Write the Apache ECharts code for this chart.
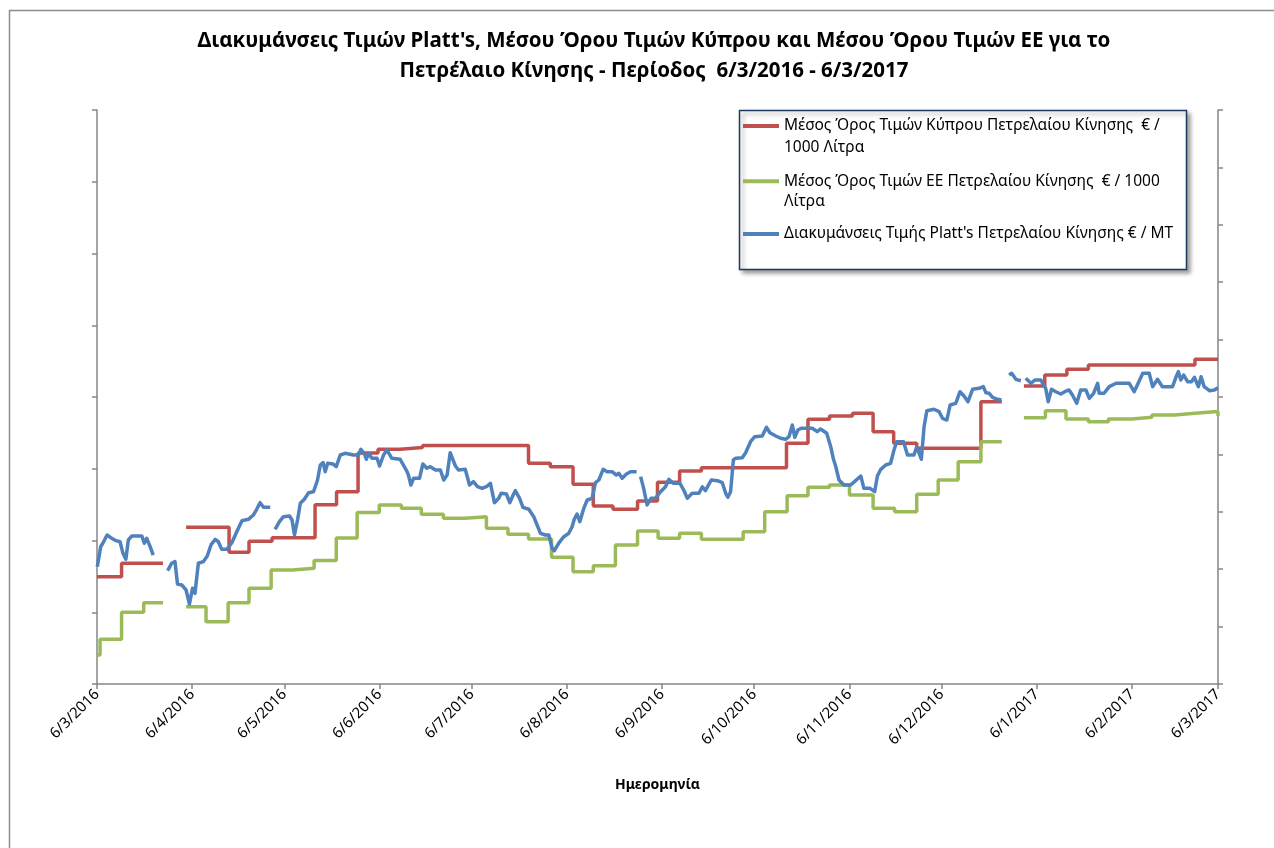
<!DOCTYPE html>
<html>
<head>
<meta charset="utf-8">
<title>Platt's - Κύπρος - ΕΕ</title>
<script src="https://cdn.jsdelivr.net/npm/echarts@6/dist/echarts.min.js"></script>
<style>
html,body{margin:0;padding:0;background:#fff;}
#chart{width:1274px;height:848px;}
</style>
</head>
<body>
<div id="chart"></div>
<script>
// ημέρες από 6/3/2016 για κάθε ετικέτα του άξονα
var monthDays = [0, 31, 61, 92, 122, 153, 184, 214, 245, 275, 306, 337, 365];
var monthLabels = ['6/3/2016', '6/4/2016', '6/5/2016', '6/6/2016', '6/7/2016', '6/8/2016', '6/9/2016',
	'6/10/2016', '6/11/2016', '6/12/2016', '6/1/2017', '6/2/2017', '6/3/2017'];

var seriesNames = [
	'Μέσος Όρος Τιμών Κύπρου Πετρελαίου Κίνησης  € /\n1000 Λίτρα',
	'Μέσος Όρος Τιμών ΕΕ Πετρελαίου Κίνησης  € / 1000\nΛίτρα',
	"Διακυμάνσεις Τιμής Platt's Πετρελαίου Κίνησης € / MT"
];

// [ημέρα, τιμή] - εβδομαδιαία βήματα, null = κενό
var cyprusSteps = [[0,149.5],[8,168.2],[21.5,168.2],[21.5,null],[29,218.4],[43,183.6],[49.5,198.9],[57,203.8],
	[71,249.9],[78,268.0],[85,321.9],[91.5,327.1],[98.7,329.6],[106,332.4],[140.5,307.6],[147.6,302.9],[155,278.3],
	[161.6,248.1],[168,243.5],[176,255.0],[182.5,281.1],[189.7,296.9],[196.8,301.5],[224.5,335.5],[231.5,368.9],
	[238.5,373.5],[246,377.3],[252.7,351.6],[259.4,335.5],[266.9,328.5],[287.8,393.4],[294.6,393.4],[294.6,null],
	[301.8,415.3],[308.6,430.7],[315.8,438.6],[322.8,444.6],[357.5,452.5],[365,452.5]];

var euSteps = [[0,40.4],[1,62.3],[8,99.9],[15.2,113.3],[21.5,113.3],[21.5,null],[29,107.7],[35.5,86.8],[42.7,113.3],
	[49.5,133.4],[56.7,158.9],[63.7,161.3],[70.7,172.1],[77.9,203.5],[84.7,239.0],[91.9,249.5],[99.1,244.9],
	[105.6,236.5],[112.8,230.9],[119.9,233.2],[126.8,217.0],[133.8,208.6],[140.5,202.1],[148,176.6],[155,156.5],
	[161.6,164.9],[168.8,193.7],[176,213.2],[182.7,203.1],[189.7,210.0],[196.8,201.7],[210.4,212.3],[217.4,240.1],
	[224.7,262.4],[231.5,274.1],[238.5,277.3],[245,263.4],[252.7,244.9],[259.7,240.1],[266.9,264.4],[273.9,284.3],
	[280.4,309.8],[287.8,337.7],[294.6,337.7],[294.6,null],[301.8,371.1],[308.8,380.9],[315.5,369.3],[322.8,365.6],
	[329.3,369.3],[337,371.7],[343.5,374.9],[351,377.3],[357.5,379.5],[363.7,379.5],[365,373.5]];

// Platt's (δεξιός άξονας), ημερήσιες τιμές
var plattsPoints = [[0.1,204.4],[1.2,239.2],[1.9,245.1],[3.3,259.6],[4.8,253.8],[6.2,249.7],[7.5,247.9],[8.4,228.8],
	[9.4,217.3],[10.2,250.9],[11.3,257.8],[14.6,257.8],[15.4,245.1],[16.2,253.8],[17.3,239.2],[18.3,224.7],[20,null],
	[23,197.4],[24.3,210.3],[25.4,213.1],[26.2,174.2],[27.6,172.5],[29,163.8],[30.1,139.4],[31.1,166.7],[31.9,158.0],
	[33,210.3],[34.6,213.1],[35.9,223.0],[37.2,243.4],[38.5,252.1],[39.5,247.9],[40.6,234.7],[42.3,234.7],[43.9,246.2],
	[45.5,265.3],[47.2,284.5],[49.3,286.9],[50.9,294.4],[52,304.4],[53.1,315.9],[54.2,307.8],[56.4,307.8],[57,null],
	[58,269.5],[59.4,282.8],[60.7,291.5],[62.7,292.7],[63.5,285.7],[64.3,259.6],[65.3,285.7],[66.2,314.8],[67.5,321.8],
	[68.9,333.3],[70.5,335.0],[71.8,355.4],[72.7,381.5],[73.6,385.6],[74.3,369.9],[75.1,384.5],[76.8,383.3],[77.9,378.6],
	[79.2,399.0],[80.8,401.9],[83.5,399.0],[85.2,399.0],[85.9,408.9],[87,401.9],[87.7,391.5],[88.4,401.9],[89.5,393.2],
	[91.2,393.2],[92,379.8],[93.3,399.0],[94.4,407.7],[96,393.2],[98.7,391.5],[100.7,372.8],[101.4,364.1],[102.2,346.7],
	[103.1,358.4],[105,358.4],[106.1,383.3],[107.4,375.8],[108.5,378.6],[110.2,372.8],[111.8,372.8],[112.9,355.4],
	[114,364.1],[115,403.0],[116.7,379.8],[117.7,372.8],[119.9,374.0],[121.3,346.7],[122.6,352.4],[123.9,343.7],
	[125.4,340.9],[126.8,343.7],[128.1,349.7],[129.4,315.9],[130.8,323.5],[131.6,332.2],[133.3,331.0],[134.4,315.9],
	[135.5,329.3],[136.2,336.8],[137.6,323.5],[138.7,307.8],[140.6,304.4],[142.2,291.5],[143.3,277.0],[144.4,262.5],
	[146,259.6],[147.1,259.6],[148.2,236.4],[148.9,232.2],[150.3,245.1],[151.8,255.6],[153.6,262.5],[154.7,274.0],
	[155.4,286.9],[156.3,296.2],[157.2,282.8],[158.5,306.1],[159.6,320.6],[161.2,323.5],[162.3,350.7],[163.4,355.4],
	[164.8,374.0],[166.1,369.9],[167.7,369.9],[169.1,364.1],[169.9,367.1],[171,358.4],[172.4,365.9],[173.7,369.9],
	[175.7,369.9],[176.4,null],
	[177,361.2],[178,340.9],[179.1,311.9],[180.4,323.5],[181.8,323.5],[183.5,335.0],[185.1,343.7],[186.2,356.6],
	[187.6,349.7],[189.8,349.7],[191.3,335.0],[192.2,323.5],[193.8,332.2],[196,332.2],[197.1,343.7],[198.1,336.8],
	[200,355.4],[202,354.2],[203.6,350.7],[204.7,332.2],[205.4,325.3],[206.3,335.0],[207.2,390.3],[207.9,393.2],
	[210.1,394.3],[211.2,403.0],[212.8,422.1],[214.1,430.8],[216.6,432.1],[218,447.2],[219.1,437.8],[221,432.1],
	[222.6,428.1],[224.2,426.3],[225.3,430.8],[226.4,451.2],[227.2,429.8],[228.2,442.5],[229.3,445.5],[232.9,445.5],
	[234.5,439.6],[235.6,444.3],[237.6,436.8],[238.9,413.4],[239.8,391.5],[240.5,379.8],[241.6,355.4],[243.2,346.7],
	[245.4,346.7],[247,354.2],[248.7,362.4],[249.7,340.9],[251.7,340.9],[253.2,335.0],[254.1,362.4],[255.2,374.0],
	[256.8,381.5],[258.4,384.5],[259.5,407.7],[260.4,422.1],[262.6,422.1],[263.9,399.0],[266,399.0],[266.9,413.4],
	[267.7,401.9],[268.4,391.5],[269.3,448.3],[270.2,476.1],[272.5,478.6],[274.2,474.4],[275.3,462.9],[276.7,459.9],
	[277.8,486.1],[279.6,489.0],[281,509.2],[282.3,501.8],[283.6,491.8],[285.1,513.4],[287.2,515.2],[288.6,518.0],
	[289.4,507.5],[290.5,506.5],[291.6,499.5],[293.2,496.0],[294.5,494.8],[295.5,null],
	[297,538.3],[297.8,541.3],[299.2,530.8],[300.8,528.4],[301.6,null],
	[302.4,532.6],[304.1,523.9],[305.4,529.6],[307.3,529.6],[308.9,515.2],[309.7,491.8],[310.8,513.4],[312.2,509.2],
	[313.8,505.2],[315.1,509.2],[316.5,512.2],[317.6,503.5],[319,489.0],[320.3,512.2],[322,512.2],[323.1,497.7],
	[324.5,506.5],[325.8,523.9],[326.3,506.5],[327.9,506.5],[329.6,518.0],[331.8,523.9],[336.1,523.9],[337.7,509.2],
	[339,523.9],[340.5,541.3],[342.6,541.3],[343.7,518.0],[345.3,530.8],[346.9,518.0],[350.2,518.0],[351.3,534.3],
	[352.1,544.1],[352.9,529.6],[353.8,538.3],[355.1,526.7],[356.4,526.7],[357.3,534.3],[358.6,518.0],[359.5,535.4],
	[360.5,518.0],[362.2,511.0],[363.8,512.2],[365,516.2]];

var colors = ['#c0504d', '#9bbb59', '#4f81bd'];
var font = 'Noto Sans';
var axisColor = '#868686';

//λεζάντα: ένα legend για κάθε σειρά, με κενή πρώτη γραμμή ώστε η γραμμή-σύμβολο να είναι δίπλα στην πρώτη γραμμή κειμένου
var legendTops = [93, 150.5, 223.5];
var legendLineH = [22, 20.5, 21];
var legends = [];
for (var i = 0; i < seriesNames.length; i++) {
	legends.push({
		data: [seriesNames[i]],
		orient: 'vertical',
		left: 743,
		top: legendTops[i],
		padding: 0,
		icon: 'rect',
		itemWidth: 36,
		itemHeight: 4,
		selectedMode: false,
		formatter: function (name) {
			return name.indexOf('\n') >= 0 ? '\u00a0\n' + name : name;
		},
		textStyle: { fontFamily: font, fontSize: 15.5, color: '#000', lineHeight: legendLineH[i] }
	});
}

var chart = echarts.init(document.getElementById('chart'));
var option = {
	animation: false,
	backgroundColor: '#fff',
	title: {
		text: "Διακυμάνσεις Τιμών Platt's, Μέσου Όρου Τιμών Κύπρου και Μέσου Όρου Τιμών ΕΕ για το\nΠετρέλαιο Κίνησης - Περίοδος  6/3/2016 - 6/3/2017",
		left: 649,
		top: 21,
		textAlign: 'center',
		textStyle: { fontFamily: font, fontSize: 20.5, fontWeight: 'bold', color: '#000', lineHeight: 30 }
	},
	legend: legends,
	graphic: [
		{
			type: 'rect', z: 0, silent: true,
			shape: { x: 9.5, y: 10.5, width: 1400, height: 1000 },
			style: { fill: 'none', stroke: '#8c8c8c', lineWidth: 1.5 }
		},
		{
			type: 'rect', z: 3, silent: true,
			shape: { x: 739.5, y: 110.5, width: 447, height: 159 },
			style: { fill: '#fff', stroke: '#1f3a60', lineWidth: 1.5,
				shadowBlur: 4, shadowOffsetX: 3, shadowOffsetY: 3, shadowColor: 'rgba(0,0,0,0.35)' }
		}
	],
	grid: { left: 97, right: 56, top: 110, bottom: 164 },
	xAxis: {
		type: 'value',
		min: 0,
		max: 365,
		name: 'Ημερομηνία',
		nameLocation: 'middle',
		nameGap: 94,
		nameTextStyle: { fontFamily: font, fontSize: 14, fontWeight: 'bold', color: '#000' },
		axisLine: { lineStyle: { color: axisColor, width: 1.5 } },
		axisTick: { customValues: monthDays, length: 5, lineStyle: { color: axisColor, width: 1.5 } },
		axisLabel: {
			customValues: monthDays,
			rotate: 45,
			margin: 8,
			fontFamily: font,
			fontSize: 15,
			color: '#000',
			formatter: function (v) {
				var k = monthDays.indexOf(v);
				return k >= 0 ? monthLabels[k] : '';
			}
		},
		splitLine: { show: false }
	},
	yAxis: [
		{
			type: 'value', position: 'left', min: 0, max: 800, interval: 100,
			axisLine: { show: true, lineStyle: { color: axisColor, width: 1.5 } },
			axisTick: { show: true, length: 5, lineStyle: { color: axisColor, width: 1.5 } },
			axisLabel: { show: false },
			splitLine: { show: false }
		},
		{
			type: 'value', position: 'right', min: 0, max: 1000, interval: 100,
			axisLine: { show: true, lineStyle: { color: axisColor, width: 1.5 } },
			axisTick: { show: true, length: 5, lineStyle: { color: axisColor, width: 1.5 } },
			axisLabel: { show: false },
			splitLine: { show: false }
		}
	],
	series: [
		{
			name: seriesNames[0], type: 'line', yAxisIndex: 0, step: 'end',
			data: cyprusSteps, showSymbol: false, symbol: 'none',
			itemStyle: { color: colors[0] }, lineStyle: { color: colors[0], width: 3.5 }
		},
		{
			name: seriesNames[1], type: 'line', yAxisIndex: 0, step: 'end',
			data: euSteps, showSymbol: false, symbol: 'none',
			itemStyle: { color: colors[1] }, lineStyle: { color: colors[1], width: 3.5 }
		},
		{
			name: seriesNames[2], type: 'line', yAxisIndex: 1,
			data: plattsPoints, showSymbol: false, symbol: 'none',
			itemStyle: { color: colors[2] }, lineStyle: { color: colors[2], width: 3.5, join: 'round' }
		}
	]
};
chart.setOption(option);
</script>
</body>
</html>
